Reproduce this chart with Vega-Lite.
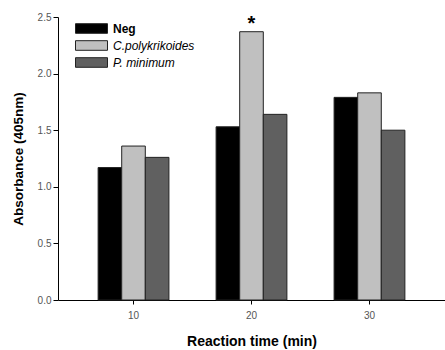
{
  "$schema": "https://vega.github.io/schema/vega-lite/v6.json",
  "width": 387,
  "height": 283,
  "autosize": {"type": "none"},
  "padding": {"left": 58, "top": 17, "right": 0, "bottom": 50},
  "background": "white",
  "config": {"font": "Liberation Sans", "view": {"stroke": null}},
  "data": {
    "values": [
      {"time": 10, "series": "Neg", "value": 1.17},
      {"time": 10, "series": "C.polykrikoides", "value": 1.36},
      {"time": 10, "series": "P. minimum", "value": 1.26},
      {"time": 20, "series": "Neg", "value": 1.53},
      {"time": 20, "series": "C.polykrikoides", "value": 2.37, "sig": "*"},
      {"time": 20, "series": "P. minimum", "value": 1.64},
      {"time": 30, "series": "Neg", "value": 1.79},
      {"time": 30, "series": "C.polykrikoides", "value": 1.83},
      {"time": 30, "series": "P. minimum", "value": 1.5}
    ]
  },
  "encoding": {
    "x": {
      "field": "time",
      "type": "ordinal",
      "scale": {"paddingInner": 0.4, "paddingOuter": 0.34},
      "axis": {
        "labelAngle": 0,
        "labelColor": "#555555",
        "labelFontSize": 10,
        "labelPadding": 6,
        "domainColor": "#000000",
        "tickColor": "#000000",
        "tickSize": 4,
        "title": "Reaction time (min)",
        "titleFontSize": 14,
        "titleFontWeight": "bold",
        "titleColor": "#000000",
        "titlePadding": 14
      }
    },
    "xOffset": {
      "field": "series",
      "sort": ["Neg", "C.polykrikoides", "P. minimum"],
      "scale": {"paddingInner": 0, "paddingOuter": 0}
    },
    "y": {
      "field": "value",
      "type": "quantitative",
      "scale": {"domain": [0, 2.5], "nice": false},
      "axis": {
        "values": [0, 0.5, 1, 1.5, 2, 2.5],
        "format": ".1f",
        "grid": false,
        "labelColor": "#555555",
        "labelFontSize": 10,
        "domainColor": "#000000",
        "tickColor": "#000000",
        "tickSize": 5,
        "title": "Absorbance (405nm)",
        "titleFontSize": 13.5,
        "titleFontWeight": "bold",
        "titleColor": "#000000",
        "titlePadding": 12
      }
    }
  },
  "layer": [
    {
      "mark": {"type": "bar", "stroke": "#222222", "strokeWidth": 1},
      "encoding": {
        "color": {
          "field": "series",
          "type": "nominal",
          "sort": ["Neg", "C.polykrikoides", "P. minimum"],
          "scale": {
            "domain": ["Neg", "C.polykrikoides", "P. minimum"],
            "range": ["#000000", "#c0c0c0", "#606060"]
          },
          "legend": {
            "orient": "none",
            "legendX": 25,
            "legendY": 3,
            "title": null,
            "padding": 0,
            "symbolType": "M-2,-0.6H2V0.6H-2Z",
            "symbolSize": 256,
            "symbolStrokeColor": "#222222",
            "symbolStrokeWidth": 1,
            "symbolOpacity": 1,
            "labelFontSize": 12,
            "labelColor": "#000000",
            "labelOffset": 13,
            "rowPadding": 1,
            "encode": {
              "labels": {
                "update": {
                  "fontStyle": {"signal": "datum.label == 'Neg' ? 'normal' : 'italic'"},
                  "fontWeight": {"signal": "datum.label == 'Neg' ? 'bold' : 'normal'"}
                }
              }
            }
          }
        }
      }
    },
    {
      "transform": [{"filter": "datum.sig"}],
      "mark": {"type": "text", "fontSize": 20, "fontWeight": "bold", "baseline": "bottom", "dy": 2, "color": "#000000"},
      "encoding": {"text": {"field": "sig"}}
    }
  ]
}
